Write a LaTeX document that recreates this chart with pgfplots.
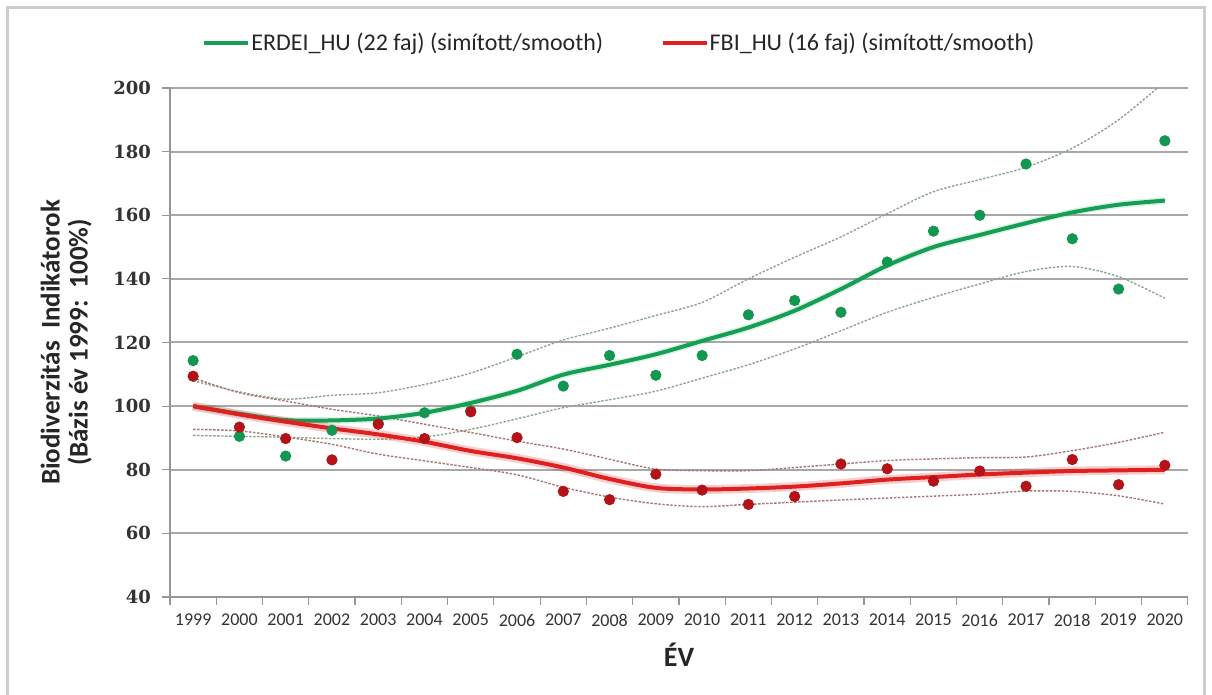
\documentclass[border=0pt]{standalone}
\usepackage{pgfplots}
\pgfplotsset{compat=1.18}
\usepackage{pgfplotstable}
\usepackage{fontspec}
\setmainfont{Carlito}
\newfontfamily\tickserif{DejaVu Serif}

\definecolor{gline}{RGB}{22,158,84}
\definecolor{gdot}{RGB}{18,150,80}
\definecolor{rline}{RGB}{222,32,32}
\definecolor{rdot}{RGB}{178,18,24}
\definecolor{bandg}{RGB}{140,165,145}
\definecolor{bandr}{RGB}{170,115,115}
\definecolor{gridgray}{RGB}{168,168,168}
\definecolor{axisgray}{RGB}{150,150,150}
\definecolor{framegray}{RGB}{205,205,205}

\pgfplotstableread{
year gdot  rdot  gsm   rsm   gup   glo   rup   rlo
1999 114.3 109.4 100.0 100.0 108.0 90.8  108.9 92.7
2000 90.5  93.4  97.6  97.4  104.5 90.5  104.2 92.2
2001 84.3  89.8  95.6  95.1  102.2 90.2  101.6 90.3
2002 92.4  83.1  95.5  93.0  103.4 89.8  99.0  88.0
2003 94.6  94.3  96.1  91.1  104.2 89.6  96.9  84.9
2004 97.9  89.8  97.9  88.8  106.8 90.3  94.3  82.8
2005 98.5  98.2  101.0 85.9  110.4 92.7  91.7  80.7
2006 116.3 90.1  104.8 83.6  115.5 96.0  89.0  78.4
2007 106.3 73.2  109.9 80.7  120.8 99.5  86.5  74.5
2008 115.9 70.6  113.0 77.1  124.5 102.0 83.3  71.4
2009 109.7 78.6  116.3 74.3  128.5 104.7 80.2  69.3
2010 115.9 73.6  120.5 73.8  132.6 108.8 79.7  68.4
2011 128.7 69.1  124.7 74.1  140.0 113.0 79.7  69.1
2012 133.2 71.6  130.0 74.7  146.8 118.0 80.7  69.8
2013 129.5 81.8  136.8 75.7  153.2 123.7 81.8  70.5
2014 145.3 80.3  144.2 76.9  160.5 129.5 82.9  71.1
2015 155.0 76.4  150.0 77.7  167.4 134.2 83.4  71.7
2016 160.0 79.6  153.8 78.5  171.2 138.4 83.8  72.3
2017 176.1 74.8  157.5 79.1  175.1 142.3 84.0  73.3
2018 152.6 83.2  160.9 79.6  181.1 143.9 86.0  73.2
2019 136.8 75.3  163.3 79.8  190.0 140.7 88.6  71.8
2020 183.4 81.4  164.6 80.0  202.0 133.9 91.8  69.2
}\data

\begin{document}
\begin{tikzpicture}
\path[use as bounding box] (-85pt,-49pt) rectangle (521pt,298.5pt);
\begin{axis}[
  at={(0,0)}, anchor=south west,
  scale only axis, width=509pt, height=254.5pt,
  xmin=1998.5, xmax=2020.5, ymin=40, ymax=200,
  axis x line*=bottom, axis y line*=left,
  axis line style={-, draw=axisgray, line width=0.8pt},
  xtick={1999,...,2020},
  minor xtick={1998.5,1999.5,...,2020.5},
  major x tick style={draw=none},
  minor x tick style={draw=axisgray, line width=0.6pt},
  minor tick length=4pt,
  major tick length=4pt,
  ytick={40,60,...,200},
  major y tick style={draw=axisgray, line width=0.6pt},
  tick align=outside,
  ymajorgrids, grid style={draw=gridgray, line width=1pt},
  /pgf/number format/1000 sep={},
  /pgf/number format/assume math mode=true,
  xticklabel style={font=\fontsize{9}{10}\selectfont, text=black!80, yshift=-1pt},
  yticklabel style={font=\tickserif\bfseries\fontsize{9}{10}\selectfont, text=black!80, xshift=-2pt},
  xlabel={ÉV},
  xlabel style={font=\bfseries\fontsize{14}{16}\selectfont, text=black!85, at={(axis description cs:0.5,-0.114)}, anchor=center},
  ylabel={Biodiverzitás\ \ Indikátorok\\(Bázis év 1999:\ \ 100\%)},
  ylabel style={align=center, font=\bfseries\fontsize{13.5}{14}\selectfont, text=black!85, at={(axis description cs:-0.102,0.5)}, anchor=center},
  legend style={at={(axis description cs:0.441,1.088)}, anchor=center, draw=none, fill=none,
    font=\fontsize{12}{14}\selectfont, text=black!85, nodes={inner sep=0.6pt},
    /tikz/every even column/.append style={column sep=28pt}},
  legend columns=2,
  legend cell align=left,
  legend image code/.code={\draw[#1] (0pt,0pt) -- (22pt,0pt);},
]
% confidence bands
\addplot[bandg, line width=0.7pt, dash pattern=on 1.2pt off 0.8pt, smooth, forget plot] table[x=year,y=gup]{\data};
\addplot[bandg, line width=0.7pt, dash pattern=on 1.2pt off 0.8pt, smooth, forget plot] table[x=year,y=glo]{\data};
\addplot[bandr, line width=0.7pt, dash pattern=on 1.2pt off 0.8pt, smooth, forget plot] table[x=year,y=rup]{\data};
\addplot[bandr, line width=0.7pt, dash pattern=on 1.2pt off 0.8pt, smooth, forget plot] table[x=year,y=rlo]{\data};
% smooth trends
\addplot[gline, opacity=0.15, line width=3.5pt, smooth, forget plot] table[x=year,y=gsm]{\data};
\addplot[gline, line width=2pt, smooth] table[x=year,y=gsm]{\data};
\addlegendentry{ERDEI\_HU (22 faj) (simított/smooth)}
\addplot[rline, opacity=0.22, line width=4.5pt, smooth, forget plot] table[x=year,y=rsm]{\data};
\addplot[rline, line width=2pt, smooth] table[x=year,y=rsm]{\data};
\addlegendentry{FBI\_HU (16 faj) (simított/smooth)}
% yearly values
\addplot[only marks, mark=*, mark size=2.6pt, mark options={draw=gdot, fill=gdot}, forget plot] table[x=year,y=gdot]{\data};
\addplot[only marks, mark=*, mark size=2.6pt, mark options={draw=rdot, fill=rdot}, forget plot] table[x=year,y=rdot]{\data};
\end{axis}
\draw[framegray, line width=1.5pt] (-81pt,-55pt) -- (-81pt,294.5pt) -- (517pt,294.5pt) -- (517pt,-55pt);
\end{tikzpicture}
\end{document}
